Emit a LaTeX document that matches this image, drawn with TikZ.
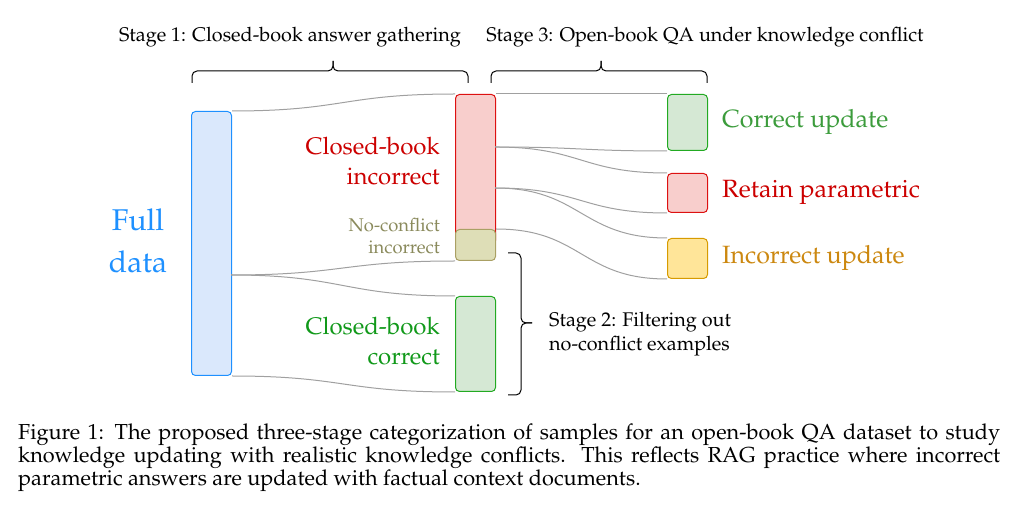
\documentclass[tikz,border=0pt]{standalone}
\usepackage[T1]{fontenc}
\usepackage{mathpazo}
\definecolor{bluetxt}{HTML}{1E90FF}
\definecolor{bluefill}{HTML}{DAE8FC}
\definecolor{redtxt}{HTML}{CC0000}
\definecolor{redline}{HTML}{DD1111}
\definecolor{redfill}{HTML}{F8CECC}
\definecolor{olivetxt}{HTML}{8A8A5C}
\definecolor{oliveline}{HTML}{AAA064}
\definecolor{olivefill}{HTML}{DEDEB7}
\definecolor{greentxt}{HTML}{11991A}
\definecolor{greenline}{HTML}{22AA22}
\definecolor{greenfill}{HTML}{D5E8D4}
\definecolor{green2txt}{HTML}{3C9C3C}
\definecolor{orangetxt}{HTML}{CC8810}
\definecolor{orangeline}{HTML}{D79B00}
\definecolor{yellowfill}{HTML}{FFE599}
\definecolor{flowgrey}{HTML}{A0A0A0}
\tikzset{
  bar/.style={rectangle, rounded corners=4pt, minimum width=40pt, inner sep=0pt, anchor=north west, line width=1pt},
  flow/.style={draw=flowgrey, line width=1pt},
  bracel/.style={draw=black, line width=1pt, rounded corners=5pt},
  lbl/.style={inner sep=0pt},
}
\begin{document}
\begin{tikzpicture}[x=1pt,y=-1pt]
\useasboundingbox (0,0) rectangle (1013,510);
% bars
\node[bar, draw=bluetxt, fill=bluefill, minimum height=264pt] (full) at (191,111) {};
\node[bar, draw=redline, fill=redfill, minimum height=150pt] (red) at (455,94) {};
\node[bar, draw=oliveline, fill=olivefill, minimum height=31pt] (olive) at (455,229) {};
\node[bar, draw=greenline, fill=greenfill, minimum height=95pt] (green) at (455,296) {};
\node[bar, draw=greenline, fill=greenfill, minimum height=56pt] (cu) at (667,94) {};
\node[bar, draw=redline, fill=redfill, minimum height=39pt] (rp) at (667,173) {};
\node[bar, draw=orangeline, fill=yellowfill, minimum height=40pt] (iu) at (667,238) {};
% split points
\coordinate (fs) at (231,275);
\coordinate (r1) at (495,147);
\coordinate (r2) at (495,188);
% flows
\draw[flow] (full.north east) .. controls +(112,0) and +(-112,0) .. (red.north west);
\draw[flow] (red.north east) -- (cu.north west);
\draw[flow] (fs) .. controls +(112,0) and +(-112,0) .. (olive.south west);
\draw[flow] (fs) .. controls +(112,0) and +(-112,0) .. (green.north west);
\draw[flow] (full.south east) .. controls +(112,0) and +(-112,0) .. (green.south west);
\draw[flow] (r1) .. controls +(86,0) and +(-86,0) .. (cu.south west);
\draw[flow] (r1) .. controls +(86,0) and +(-86,0) .. (rp.north west);
\draw[flow] (r2) .. controls +(86,0) and +(-86,0) .. (rp.south west);
\draw[flow] (r2) .. controls +(86,0) and +(-86,0) .. (iu.north west);
\draw[flow] (olive.north east) .. controls +(86,0) and +(-86,0) .. (iu.south west);
% braces
\draw[bracel] (192,83) -- (192,71) -- (333,71) -- (333,61);
\draw[bracel] (333,61) -- (333,71) -- (468,71) -- (468,83);
\draw[bracel] (491,83) -- (491,71) -- (601,71) -- (601,61);
\draw[bracel] (601,61) -- (601,71) -- (707,71) -- (707,83);
\draw[bracel] (508,253) -- (521,253) -- (521,323) -- (532,323);
\draw[bracel] (532,323) -- (521,323) -- (521,395) -- (508,395);
% labels
\node[lbl, text=bluetxt, align=center, font=\fontsize{30}{42}\selectfont] (tfull) at (138,241) {Full\\data};
\node[lbl, text=redtxt, align=right, anchor=east, font=\fontsize{24}{30}\selectfont] (tcbi) at (440,161) {Closed-book\\incorrect};
\node[lbl, text=olivetxt, align=right, anchor=east, font=\fontsize{18.4}{22}\selectfont] (tnci) at (440,236) {No-conflict\\incorrect};
\node[lbl, text=greentxt, align=right, anchor=east, font=\fontsize{24}{30}\selectfont] (tcbc) at (440,341) {Closed-book\\correct};
\node[lbl, text=green2txt, anchor=west, font=\fontsize{25}{30}\selectfont] (tcu) at (722,122) {Correct update};
\node[lbl, text=redtxt, anchor=west, font=\fontsize{25}{30}\selectfont] (trp) at (722,192) {Retain parametric};
\node[lbl, text=orangetxt, anchor=west, font=\fontsize{25}{30}\selectfont] (tiu) at (722,258) {Incorrect update};
\node[lbl, font=\fontsize{19.8}{24}\selectfont] (s1) at (290,37) {Stage 1: Closed-book answer gathering};
\node[lbl, font=\fontsize{19.8}{24}\selectfont] (s3) at (705,37) {Stage 3: Open-book QA under knowledge conflict};
\node[lbl, anchor=west, align=left, font=\fontsize{19.8}{24}\selectfont] (s2) at (549,334) {Stage 2: Filtering out\\no-conflict examples};
\node[lbl, anchor=north west, text width=982pt, align=justify, font=\fontsize{21.7}{23}\selectfont] (cap) at (18,424) {Figure 1: The proposed three-stage categorization of samples for an open-book QA dataset to study\linebreak knowledge updating with realistic knowledge conflicts. This reflects RAG practice where incorrect\linebreak parametric answers are updated with factual context documents.};
\end{tikzpicture}
\end{document}
